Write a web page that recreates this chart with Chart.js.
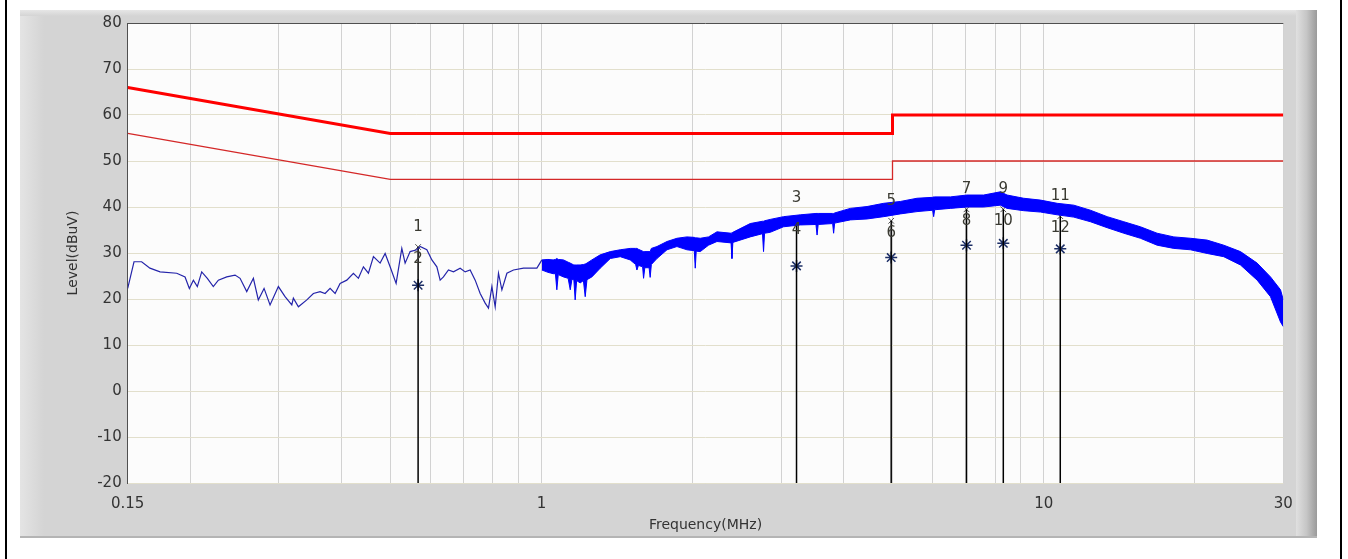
<!DOCTYPE html>
<html><head><meta charset="utf-8">
<script src="https://cdn.jsdelivr.net/npm/chart.js@4.4.0/dist/chart.umd.min.js"></script>
<style>html,body{margin:0;padding:0;background:#fff;overflow:hidden}canvas{display:block}</style>
</head><body>
<canvas id="c" width="1348" height="559"></canvas>
<script>
// Low-frequency trace (thin line), MHz / dBuV
const lowFreq=[0.150,0.1544,0.1599,0.1661,0.1740,0.1878,0.1951,0.1990,0.2027,0.2064,0.2106,0.2161,0.2221,0.2273,0.2362,0.2454,0.2511,0.2589,0.2669,0.2730,0.2803,0.2881,0.2993,0.3086,0.3183,0.3206,0.3281,0.3410,0.3514,0.3624,0.3708,0.3794,0.3882,0.3972,0.4096,0.4222,0.4320,0.4420,0.4523,0.4628,0.4772,0.4883,0.4996,0.5135,0.5271,0.5352,0.5476,0.5647,0.5733,0.5912,0.6050,0.6190,0.6284,0.6380,0.6528,0.6680,0.6888,0.7048,0.7211,0.7379,0.7550,0.7725,0.7843,0.7966,0.8088,0.8211,0.8340,0.8534,0.8796,0.9209,0.9792,1.0019];
const lowLevel=[22.3,28.1,28.1,26.7,25.9,25.6,24.8,22.3,24.1,22.7,25.9,24.5,22.7,24.1,24.8,25.2,24.5,21.6,24.5,19.8,22.3,18.7,22.7,20.5,18.7,20.2,18.3,19.8,21.2,21.6,21.2,22.3,21.2,23.4,24.1,25.6,24.5,27.0,25.6,29.2,27.8,29.9,27.0,23.4,31.0,27.8,30.3,30.7,31.4,30.7,28.5,27.0,24.1,24.8,26.3,25.9,26.7,25.9,26.3,24.1,21.2,19.1,18.0,22.7,18.3,25.6,22.0,25.6,26.3,26.7,26.7,28.5];
// Dense noisy part: upper and lower envelope of the band (dips = downward spikes)
const bandFreq=[1.002,1.030,1.055,1.066,1.073,1.080,1.106,1.130,1.141,1.150,1.160,1.167,1.175,1.194,1.212,1.222,1.232,1.260,1.309,1.371,1.435,1.502,1.540,1.549,1.560,1.590,1.597,1.606,1.638,1.646,1.655,1.698,1.778,1.861,1.948,2.015,2.024,2.033,2.071,2.151,2.236,2.385,2.395,2.405,2.604,2.755,2.768,2.781,2.854,3.034,3.277,3.520,3.538,3.556,3.800,3.817,3.835,4.121,4.449,4.801,5.182,5.595,6.010,6.038,6.066,6.519,7.037,7.594,8.199,8.455,9.123,9.854,10.64,11.48,12.39,13.38,14.44,15.58,16.82,18.16,19.60,21.16,22.83,24.65,26.61,28.29,29.62,30.0];
const bandTop=[28.5,28.6,28.5,28.6,28.8,28.6,28.5,28.0,27.8,27.6,27.4,27.4,27.4,27.4,27.5,27.6,27.8,28.5,29.6,30.3,30.7,31.0,31.0,31.0,30.8,30.4,30.3,30.3,30.3,30.3,31.0,31.4,32.5,33.2,33.5,33.4,33.3,33.3,33.2,33.5,34.6,34.3,34.3,34.5,36.4,36.9,36.9,37.0,37.3,37.9,38.3,38.6,38.6,38.6,38.6,38.6,38.7,39.7,40.1,40.8,41.2,41.9,42.1,42.2,42.2,42.2,42.6,42.6,43.3,42.6,41.9,41.5,40.8,40.4,39.3,37.9,36.8,35.7,34.3,33.5,33.2,32.8,31.7,30.3,27.8,24.8,22.0,19.8];
const bandBottom=[26.3,25.8,25.5,25.5,22.0,25.3,24.8,24.5,22.0,24.3,24.2,19.8,24.0,23.5,24.0,20.5,24.2,24.8,26.7,28.8,29.2,28.5,27.5,26.3,27.3,27.0,24.5,26.8,26.8,24.7,27.5,28.8,30.7,31.4,30.7,30.5,26.7,30.4,30.3,31.7,32.5,32.2,28.8,32.3,33.5,34.2,30.3,34.3,34.5,35.7,36.1,36.2,33.9,36.2,36.4,34.3,36.5,37.2,37.4,37.9,38.5,39.0,39.3,37.9,39.4,39.7,40.0,40.0,40.4,39.7,39.2,38.9,38.3,37.8,36.8,35.5,34.3,33.2,31.7,31.0,30.7,29.9,29.2,27.4,24.1,20.5,15.0,14.0];
// Limit lines
const qpLimitFreq=[0.15,0.5,5,5,30];
const qpLimitLevel=[66,56,56,60,60];
const avLimitFreq=[0.15,0.5,5,5,30];
const avLimitLevel=[56,46,46,50,50];
// Markers (odd = QP, even = AV)
const markerFreq=[0.568,3.22,4.97,7.02,8.31,10.79];
const markerQP=[31.3,37.5,37.0,39.5,39.5,38.0];
const markerAV=[23.0,27.2,29.0,31.7,32.1,30.9];
// Axes
const xGridTicks=[0.15,0.2,0.3,0.4,0.5,0.6,0.7,0.8,0.9,1,2,3,4,5,6,7,8,9,10,20,30];
const xTickLabels=[0.15,1,10,30];
const yTicks=[-20,-10,0,10,20,30,40,50,60,70,80];
const yMin=-20,yMax=80;

const pts=(xs,ys)=>xs.map((x,i)=>({x:x,y:ys[i]}));
const FONT='DejaVu Sans';

const markerLines=markerFreq.map((f,i)=>({
  data:[{x:f,y:yMin},{x:f,y:markerQP[i]}],
  borderColor:'#000',borderWidth:1.5,pointRadius:0,fill:false
}));

const framePlugin={
  id:'frame',
  beforeDraw(chart){
    const ctx=chart.ctx,W=chart.width,H=chart.height,a=chart.chartArea;
    ctx.save();
    ctx.fillStyle='#fff';ctx.fillRect(0,0,W,H);
    ctx.fillStyle='#d4d4d4';ctx.fillRect(20,10,1297,528);
    let g=ctx.createLinearGradient(20,0,44,0);
    g.addColorStop(0,'#e4e4e4');g.addColorStop(1,'#d4d4d4');
    ctx.fillStyle=g;ctx.fillRect(20,10,24,528);
    g=ctx.createLinearGradient(0,10,0,16);
    g.addColorStop(0,'#e6e6e6');g.addColorStop(1,'#d4d4d4');
    ctx.fillStyle=g;ctx.fillRect(20,10,1297,6);
    g=ctx.createLinearGradient(1296,0,1317,0);
    g.addColorStop(0,'#e0e0e0');g.addColorStop(0.5,'#c6c6c6');g.addColorStop(1,'#9a9a9a');
    ctx.fillStyle=g;ctx.fillRect(1296,10,21,528);
    ctx.fillStyle='#b4b4b4';ctx.fillRect(20,536,1297,2);
    ctx.fillStyle='#fcfcfc';ctx.fillRect(a.left,a.top,a.right-a.left,a.bottom-a.top);
    ctx.fillStyle='#000';ctx.fillRect(5,0,2,H);ctx.fillRect(1340,0,2,H);
    ctx.restore();
  },
  afterDatasetsDraw(chart){
    const ctx=chart.ctx,xs=chart.scales.x,ys=chart.scales.y;
    ctx.save();
    ctx.fillStyle='#3a3a32';
    ctx.font='15px "'+FONT+'"';
    ctx.textAlign='center';ctx.textBaseline='middle';
    markerFreq.forEach((f,i)=>{
      const px=xs.getPixelForValue(f),py=ys.getPixelForValue(markerQP[i]);
      ctx.fillText(String(2*i+1),px,py-20);
      ctx.fillText(String(2*i+2),px,py+12);
    });
    ctx.restore();
  }
};

new Chart(document.getElementById('c'),{
  type:'line',
  data:{datasets:[
    {data:pts(lowFreq,lowLevel),borderColor:'#2424aa',borderWidth:1.2,pointRadius:0,fill:false},
    {data:pts(bandFreq,bandTop),borderColor:'#0000ff',borderWidth:1,pointRadius:0,fill:false},
    {data:pts(bandFreq,bandBottom),borderColor:'#0000ff',borderWidth:1,pointRadius:0,fill:'-1',backgroundColor:'#0000ff'},
    {data:pts(qpLimitFreq,qpLimitLevel),borderColor:'#ff0000',borderWidth:3,pointRadius:0,fill:false},
    {data:pts(avLimitFreq,avLimitLevel),borderColor:'#d42828',borderWidth:1.3,pointRadius:0,fill:false},
    ...markerLines,
    {data:pts(markerFreq,markerQP),showLine:false,pointStyle:'crossRot',pointRadius:4,borderColor:'#555',borderWidth:1},
    {data:pts(markerFreq,markerAV),showLine:false,pointStyle:'star',pointRadius:6,borderColor:'#1d2f66',borderWidth:1.5}
  ]},
  options:{
    responsive:false,animation:false,
    elements:{line:{tension:0}},
    layout:{padding:{left:0,right:64.7,top:23,bottom:0}},
    plugins:{legend:{display:false},tooltip:{enabled:false}},
    scales:{
      x:{type:'logarithmic',min:0.15,max:30,
        afterBuildTicks:s=>{s.ticks=xGridTicks.map(v=>({value:v}));},
        afterFit:s=>{s.height=76;},
        grid:{color:'#d2d2d2',lineWidth:1,drawTicks:false},
        border:{display:false},
        ticks:{autoSkip:false,maxRotation:0,padding:12,color:'#333',font:{family:FONT,size:15},
          callback:v=>xTickLabels.includes(v)?String(v):''},
        title:{display:true,text:'Frequency(MHz)',color:'#333',font:{family:FONT,size:14},padding:{top:0,bottom:25}}
      },
      y:{min:yMin,max:yMax,
        afterBuildTicks:s=>{s.ticks=yTicks.map(v=>({value:v}));},
        afterFit:s=>{s.width=127.7;},
        grid:{color:c=>(c.tick&&c.tick.value===80)?'#505050':'#e2dfcc',lineWidth:1,drawTicks:false},
        border:{display:true,color:'#505050',width:1},
        ticks:{padding:6,color:'#333',font:{family:FONT,size:15}},
        title:{display:true,text:'Level(dBuV)',color:'#333',font:{family:FONT,size:14},padding:{top:65,bottom:0}}
      }
    }
  },
  plugins:[framePlugin]
});
</script>
</body></html>
